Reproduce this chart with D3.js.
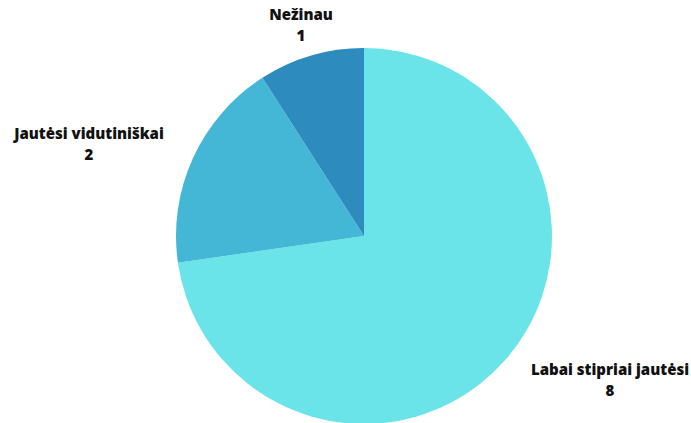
<!DOCTYPE html>
<html><head><meta charset="utf-8">
<script src="https://cdn.jsdelivr.net/npm/d3@7"></script>
<style>body{margin:0;background:#fff}svg{display:block}</style>
</head><body>
<script>
const categories = ["Labai stipriai jautėsi", "Jautėsi vidutiniškai", "Nežinau"];
const values = [8, 2, 1];
const colors = ["#6ae4e8", "#45b7d6", "#2e8bbd"];

const W = 691, H = 423, cx = 364, cy = 236, R = 188;
const svg = d3.select("body").append("svg").attr("width", W).attr("height", H);
const data = categories.map((c, i) => ({c, v: values[i], col: colors[i]}));
const pie = d3.pie().value(d => d.v).sort(null);
const arc = d3.arc().innerRadius(0).outerRadius(R);
const g = svg.append("g").attr("transform", `translate(${cx},${cy})`);
g.selectAll("path").data(pie(data)).join("path").attr("d", arc).attr("fill", d => d.data.col);

const labelPos = [[610, 371], [89, 135], [301, 16]];
const lg = svg.append("g").attr("font-family", "'Open Sans', sans-serif").attr("font-weight", 800)
  .attr("font-size", 15).attr("fill", "#111").attr("text-anchor", "middle");
data.forEach((d, i) => {
  const t = lg.append("text").attr("x", labelPos[i][0]).attr("y", labelPos[i][1]).attr("dominant-baseline", "middle");
  t.append("tspan").attr("x", labelPos[i][0]).text(d.c);
  t.append("tspan").attr("x", labelPos[i][0]).attr("dy", 21).text(d.v);
});
</script>
</body></html>
